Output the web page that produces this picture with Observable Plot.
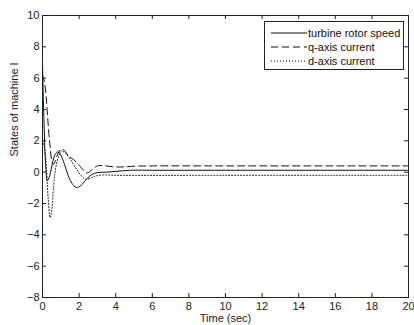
<!DOCTYPE html>
<html><head><meta charset="utf-8">
<script src="https://cdn.jsdelivr.net/npm/d3@7"></script>
<script src="https://cdn.jsdelivr.net/npm/@observablehq/plot@0.6"></script>
<style>
body{margin:0;background:#fff;}
#wrap{position:relative;width:414px;height:325px;font-family:"Liberation Sans",Arial,sans-serif;}
#legend{position:absolute;left:264px;top:21px;width:140px;height:49px;border:1px solid #222;background:#fff;box-sizing:border-box;font-size:11px;color:#111;}
#legend .row{position:absolute;left:0;height:14px;display:flex;align-items:center;}
#legend svg{width:36px;height:14px;margin-left:6px;}
</style></head>
<body><div id="wrap"></div>
<script>
const xTicks = [0,2,4,6,8,10,12,14,16,18,20];
const yTicks = [-8,-6,-4,-2,0,2,4,6,8,10];
const seriesNames = ["turbine rotor speed","q-axis current","d-axis current"];
const rotorT = [0,0.05,0.1,0.17,0.27,0.4,0.55,0.7,0.85,1.0,1.2,1.4,1.6,1.85,2.1,2.4,2.7,3.0,3.5,4.0,4.8,6,10,20];
const rotorV = [6.8,4.5,2.5,0.5,-0.55,-0.2,0.6,1.15,1.3,1.1,0.5,-0.2,-0.7,-0.98,-0.85,-0.45,-0.15,-0.03,0.0,0.05,0.12,0.12,0.12,0.12];
const qT = [0,0.1,0.2,0.3,0.4,0.5,0.6,0.7,0.85,1.05,1.25,1.45,1.7,2.0,2.3,2.45,2.7,3.0,3.3,3.8,4.3,5,6,10,20];
const qV = [6.2,5.8,4.8,3.2,1.8,0.8,0.5,0.7,1.2,1.5,1.3,1.0,0.8,0.45,0.05,-0.05,0.15,0.4,0.42,0.35,0.33,0.38,0.4,0.4,0.4];
const dT = [0,0.1,0.2,0.3,0.42,0.5,0.6,0.7,0.85,1.05,1.25,1.5,1.8,2.1,2.35,2.6,2.9,3.3,4,10,20];
const dV = [2.0,1.6,0.5,-1.5,-2.9,-2.5,-1.0,0.1,0.9,1.35,1.2,0.85,0.3,-0.2,-0.45,-0.4,-0.25,-0.18,-0.2,-0.2,-0.2];

const mk = (T,V) => T.map((t,i)=>({t, v:V[i]}));
const rotor = mk(rotorT, rotorV), q = mk(qT, qV), dd = mk(dT, dV);
const styles = [{dash:null},{dash:"7,4"},{dash:"1,2"}];

const W = 414, H = 325, ML = 42, MR = 6, MT = 15, MB = 28, TK = 4;
const innerW = W - ML - MR, innerH = H - MT - MB;

const plot = Plot.plot({
  width: W, height: H,
  marginLeft: ML, marginRight: MR, marginTop: MT, marginBottom: MB,
  style: {fontFamily: '"Liberation Sans", Arial, sans-serif', fontSize: "11px", color: "#222", background: "#fff"},
  x: {domain: [0,20], ticks: xTicks, tickSize: 0, tickPadding: 5, label: null},
  y: {domain: [-8,10], ticks: yTicks, tickSize: 0, tickPadding: 3, label: null},
  marks: [
    Plot.frame({stroke: "#222"}),
    Plot.line(rotor, {x:"t", y:"v", stroke:"#111", strokeWidth:1, curve:"catmull-rom"}),
    Plot.line(q, {x:"t", y:"v", stroke:"#111", strokeWidth:1, strokeDasharray:"7,4", curve:"catmull-rom"}),
    Plot.line(dd, {x:"t", y:"v", stroke:"#111", strokeWidth:1, strokeDasharray:"1,2", curve:"catmull-rom"}),
    Plot.tickX(xTicks, {x: d=>d, insetTop: innerH - TK, stroke:"#222"}),
    Plot.tickX(xTicks, {x: d=>d, insetBottom: innerH - TK, stroke:"#222"}),
    Plot.tickY(yTicks, {y: d=>d, insetRight: innerW - TK, stroke:"#222"}),
    Plot.tickY(yTicks, {y: d=>d, insetLeft: innerW - TK, stroke:"#222"}),
    Plot.text(["Time (sec)"], {frameAnchor:"bottom", dy:24, fontSize:11, fill:"#222"}),
    Plot.text(["States of machine I"], {frameAnchor:"left", dx:-28, rotate:-90, fontSize:11, fill:"#222"})
  ]
});
const wrap = document.getElementById("wrap");
wrap.appendChild(plot);
const lg = document.createElement("div");
lg.id = "legend";
seriesNames.forEach((name,i)=>{
  const row = document.createElement("div");
  row.className = "row";
  row.style.top = (4 + i*14) + "px";
  row.innerHTML = `<svg><line x1="0" x2="36" y1="7" y2="7" stroke="#111" stroke-width="1" ${styles[i].dash?`stroke-dasharray="${styles[i].dash}"`:""}/></svg><span style="margin-left:1px">${name}</span>`;
  lg.appendChild(row);
});
wrap.appendChild(lg);
</script></body></html>
